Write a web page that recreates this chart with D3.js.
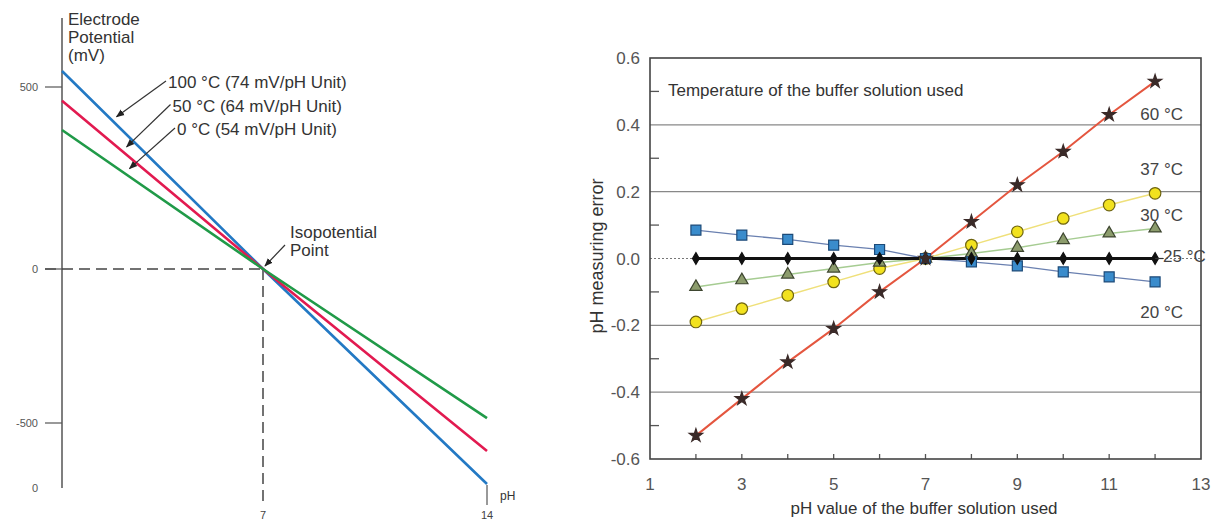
<!DOCTYPE html>
<html>
<head>
<meta charset="utf-8">
<script src="https://cdn.jsdelivr.net/npm/d3@7"></script>
<style>
  body { margin: 0; background: #fff; }
  svg { display: block; font-family: "Liberation Sans", Arial, sans-serif; }
  text { fill: #333; }
</style>
</head>
<body>
<svg id="chart" width="1216" height="521"></svg>
<script>
// ---- left chart data (electrode potential vs pH) ----
const leftPH = [0, 7, 14];
const pot100 = [544, 0, -698];
const pot50 = [462, 0, -591];
const pot0 = [382, 0, -484];
const leftSeries = [
  {name: '100 °C', label: '100 °C (74 mV/pH Unit)', values: pot100, color: '#2379c4', tip: 1.9},
  {name: '50 °C', label: '50 °C (64 mV/pH Unit)', values: pot50, color: '#e21a50', tip: 2.25},
  {name: '0 °C', label: '0 °C (54 mV/pH Unit)', values: pot0, color: '#209a48', tip: 2.35}
];
const leftYTicks = [500, 0, -500];
const leftXTicks = [7, 14];

// ---- right chart data (pH measuring error) ----
const bufferPH = [2, 3, 4, 5, 6, 7, 8, 9, 10, 11, 12];
const err60 = [-0.53, -0.42, -0.31, -0.21, -0.10, 0, 0.11, 0.22, 0.32, 0.43, 0.53];
const err37 = [-0.19, -0.15, -0.11, -0.07, -0.03, 0, 0.04, 0.08, 0.12, 0.16, 0.195];
const err30 = [-0.085, -0.065, -0.048, -0.03, -0.012, 0, 0.015, 0.032, 0.055, 0.075, 0.09];
const err25 = [0, 0, 0, 0, 0, 0, 0, 0, 0, 0, 0];
const err20 = [0.085, 0.07, 0.057, 0.04, 0.027, 0, -0.01, -0.022, -0.04, -0.055, -0.07];
const rightXTicks = [1, 3, 5, 7, 9, 11, 13];
const rightYTicks = [0.6, 0.4, 0.2, 0.0, -0.2, -0.4, -0.6];

const svg = d3.select('#chart');

// ================= LEFT =================
const lx = d3.scaleLinear().domain([0, 7, 14]).range([62, 263, 487]);
const ly = d3.scaleLinear().domain([500, 0, -500]).range([87, 269, 423]);

const left = svg.append('g');

svg.append('defs').append('marker')
  .attr('id', 'arrow')
  .attr('viewBox', '0 0 10 10')
  .attr('refX', 9).attr('refY', 5)
  .attr('markerWidth', 7).attr('markerHeight', 7)
  .attr('orient', 'auto')
  .append('path')
  .attr('d', 'M0,1 L10,5 L0,9 Z')
  .attr('fill', '#222');

// y axis line
left.append('line')
  .attr('x1', lx(0)).attr('x2', lx(0))
  .attr('y1', 18).attr('y2', 488)
  .attr('stroke', '#555').attr('stroke-width', 1.5);

// dashed isopotential guides
left.append('line')
  .attr('x1', 45).attr('x2', lx(7))
  .attr('y1', ly(0)).attr('y2', ly(0))
  .attr('stroke', '#444').attr('stroke-width', 1.5)
  .attr('stroke-dasharray', '11,6');
left.append('line')
  .attr('x1', lx(7)).attr('x2', lx(7))
  .attr('y1', ly(0)).attr('y2', 507)
  .attr('stroke', '#444').attr('stroke-width', 1.5)
  .attr('stroke-dasharray', '11,6');

// y ticks
left.selectAll('.ytick')
  .data(leftYTicks)
  .enter().append('line')
  .attr('x1', 45).attr('x2', lx(0))
  .attr('y1', d => ly(d)).attr('y2', d => ly(d))
  .attr('stroke', '#555').attr('stroke-width', 1.2);
left.selectAll('.ylab')
  .data(leftYTicks)
  .enter().append('text')
  .attr('x', 38)
  .attr('y', d => ly(d) + 4)
  .attr('text-anchor', 'end')
  .style('font-size', '11px')
  .style('fill', '#555')
  .text(d => d);
left.append('text')
  .attr('x', 38).attr('y', 492)
  .attr('text-anchor', 'end')
  .style('font-size', '11px')
  .style('fill', '#555')
  .text('0');

// x tick labels
left.selectAll('.xlab')
  .data(leftXTicks)
  .enter().append('text')
  .attr('x', d => lx(d))
  .attr('y', 519)
  .attr('text-anchor', 'middle')
  .style('font-size', '11px')
  .style('fill', '#444')
  .text(d => d);
left.append('line')
  .attr('x1', lx(14)).attr('x2', lx(14))
  .attr('y1', 485).attr('y2', 505)
  .attr('stroke', '#555').attr('stroke-width', 1.2);
left.append('text')
  .attr('x', 500).attr('y', 500)
  .style('font-size', '12px')
  .text('pH');

// axis title
left.append('text')
  .attr('x', 68).attr('y', 25)
  .style('font-size', '17px')
  .selectAll('tspan')
  .data(['Electrode', 'Potential', '(mV)'])
  .enter().append('tspan')
  .attr('x', 68)
  .attr('dy', (d, i) => i ? 18 : 0)
  .text(d => d);

// potential lines
const leftLine = d3.line()
  .x((d, i) => lx(leftPH[i]))
  .y(d => ly(d));

left.selectAll('.pline')
  .data(leftSeries)
  .enter().append('path')
  .attr('d', d => leftLine(d.values))
  .attr('fill', 'none')
  .attr('stroke', d => d.color)
  .attr('stroke-width', 2.6);

// annotations with arrows
const valueAt = (s, p) => d3.scaleLinear().domain(leftPH).range(s.values)(p);
leftSeries.forEach((s, i) => {
  const tx = lx(s.tip), ty = ly(valueAt(s, s.tip)) - 8;
  const textX = 168 + i * 4.5, textY = 88 + i * 23.5;
  left.append('line')
    .attr('x1', textX - 2).attr('y1', textY - 7)
    .attr('x2', tx).attr('y2', ty)
    .attr('stroke', '#333').attr('stroke-width', 1.2)
    .attr('marker-end', 'url(#arrow)');
  left.append('text')
    .attr('x', textX).attr('y', textY)
    .style('font-size', '17px')
    .text(s.label);
});

left.append('text')
  .attr('x', 290).attr('y', 238)
  .style('font-size', '17px')
  .text('Isopotential');
left.append('text')
  .attr('x', 290).attr('y', 256)
  .style('font-size', '17px')
  .text('Point');
left.append('line')
  .attr('x1', 285).attr('y1', 245)
  .attr('x2', lx(7) + 2).attr('y2', ly(0) - 3)
  .attr('stroke', '#333').attr('stroke-width', 1.2)
  .attr('marker-end', 'url(#arrow)');

// ================= RIGHT =================
const rx = d3.scaleLinear().domain([1, 13]).range([650, 1201]);
const ry = d3.scaleLinear().domain([-0.6, 0.6]).range([459, 58]);
const right = svg.append('g');

// grid lines
right.selectAll('.grid')
  .data([0.4, 0.2, -0.2, -0.4])
  .enter().append('line')
  .attr('x1', rx(1)).attr('x2', rx(13))
  .attr('y1', d => ry(d)).attr('y2', d => ry(d))
  .attr('stroke', '#888').attr('stroke-width', 1.2);
right.append('line')
  .attr('x1', rx(1)).attr('x2', rx(13))
  .attr('y1', ry(0)).attr('y2', ry(0))
  .attr('stroke', '#777').attr('stroke-width', 1.2)
  .attr('stroke-dasharray', '2,2');

// minor ticks
right.selectAll('.ymin')
  .data([0.5, 0.3, 0.1, -0.1, -0.3, -0.5])
  .enter().append('line')
  .attr('x1', rx(1)).attr('x2', rx(1) + 9)
  .attr('y1', d => ry(d)).attr('y2', d => ry(d))
  .attr('stroke', '#555').attr('stroke-width', 1.3);
right.selectAll('.xmin')
  .data(d3.range(2, 13))
  .enter().append('line')
  .attr('x1', d => rx(d)).attr('x2', d => rx(d))
  .attr('y1', ry(-0.6)).attr('y2', ry(-0.6) - 5)
  .attr('stroke', '#555').attr('stroke-width', 1.3);

// frame
right.append('rect')
  .attr('x', rx(1)).attr('y', ry(0.6))
  .attr('width', rx(13) - rx(1)).attr('height', ry(-0.6) - ry(0.6))
  .attr('fill', 'none')
  .attr('stroke', '#444').attr('stroke-width', 1.6);

// tick labels
right.selectAll('.ylab')
  .data(rightYTicks)
  .enter().append('text')
  .attr('x', 640)
  .attr('y', d => ry(d) + 6)
  .attr('text-anchor', 'end')
  .style('font-size', '17px')
  .style('fill', '#555')
  .text(d => d3.format('.1f')(d).replace('−', '-'));
right.selectAll('.xlab')
  .data(rightXTicks)
  .enter().append('text')
  .attr('x', d => rx(d))
  .attr('y', 490)
  .attr('text-anchor', 'middle')
  .style('font-size', '17px')
  .style('fill', '#555')
  .text(d => d);

// axis titles
right.append('text')
  .attr('x', 924).attr('y', 514)
  .attr('text-anchor', 'middle')
  .style('font-size', '17px')
  .text('pH value of the buffer solution used');
right.append('text')
  .attr('transform', 'translate(603,256) rotate(-90)')
  .attr('text-anchor', 'middle')
  .style('font-size', '18px')
  .text('pH measuring error');
right.append('text')
  .attr('x', 668).attr('y', 96)
  .style('font-size', '17px')
  .text('Temperature of the buffer solution used');

// series
const rightSeries = [
  {name: '37 °C', values: err37, line: '#efe07a', width: 1.5, symbol: d3.symbolCircle, size: 105, fill: '#f2e21e', stroke: '#6e6410'},
  {name: '30 °C', values: err30, line: '#a6cc92', width: 1.5, symbol: d3.symbolTriangle, size: 65, fill: '#8c9c6c', stroke: '#3e4630'},
  {name: '20 °C', values: err20, line: '#6a80b0', width: 1.3, symbol: d3.symbolSquare, size: 100, fill: '#3a8ccc', stroke: '#1c4a78'},
  {name: '25 °C', values: err25, line: '#111', width: 3.2, symbol: d3.symbolDiamond, size: 40, fill: '#111', stroke: '#111'},
  {name: '60 °C', values: err60, line: '#e4563f', width: 2, symbol: d3.symbolStar, size: 55, fill: '#3a2a28', stroke: '#3a2a28'}
];

const rightLine = d3.line()
  .x((d, i) => rx(bufferPH[i]))
  .y(d => ry(d));

right.selectAll('.eline')
  .data(rightSeries)
  .enter().append('path')
  .attr('d', d => rightLine(d.values))
  .attr('fill', 'none')
  .attr('stroke', d => d.line)
  .attr('stroke-width', d => d.width);

rightSeries.forEach(s => {
  right.selectAll(null)
    .data(s.values)
    .enter().append('path')
    .attr('transform', (d, i) => `translate(${rx(bufferPH[i])},${ry(d)})`)
    .attr('d', d3.symbol().type(s.symbol).size(s.size))
    .attr('fill', s.fill)
    .attr('stroke', s.stroke)
    .attr('stroke-width', 1.2);
});

// series labels
const tempLabels = [
  {text: '60 °C', v: 0.415, anchor: 'end', dx: 28},
  {text: '37 °C', v: 0.25, anchor: 'end', dx: 28},
  {text: '30 °C', v: 0.113, anchor: 'end', dx: 28},
  {text: '25 °C', v: -0.01, anchor: 'start', dx: 8},
  {text: '20 °C', v: -0.178, anchor: 'end', dx: 28}
];
right.append('line')
  .attr('x1', rx(12)).attr('x2', rx(12) + 8)
  .attr('y1', ry(0)).attr('y2', ry(0))
  .attr('stroke', '#333').attr('stroke-width', 1.2);
right.selectAll('.tlab')
  .data(tempLabels)
  .enter().append('text')
  .attr('x', d => rx(12) + d.dx)
  .attr('y', d => ry(d.v))
  .attr('text-anchor', d => d.anchor)
  .style('font-size', '17px')
  .style('fill', '#444')
  .text(d => d.text);
</script>
</body>
</html>
